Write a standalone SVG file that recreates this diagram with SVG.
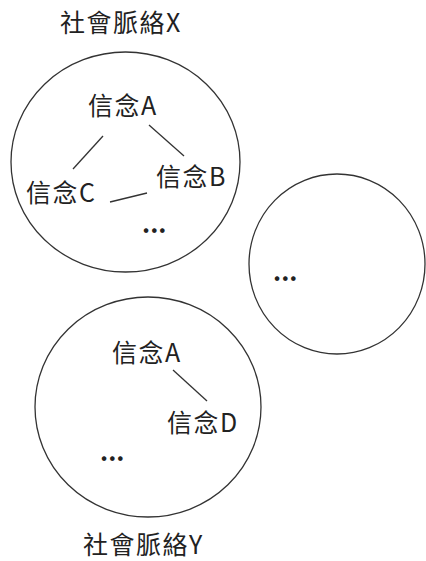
<svg xmlns="http://www.w3.org/2000/svg" width="426" height="561" viewBox="0 0 426 561">
<style>
.c{fill:none;stroke:#333;stroke-width:1.3}
.l{stroke:#333;stroke-width:1.3}
text{font-family:"Noto Sans CJK TC","Noto Sans",sans-serif;font-size:25px;letter-spacing:1.5px;fill:#222}
.d{font-weight:bold;letter-spacing:0}
</style>
<rect width="426" height="561" fill="#fff"/>
<g id="contextX">
<ellipse class="c" cx="125.5" cy="162" rx="114.5" ry="110"/>
<text x="60" y="32">社會脈絡X</text>
</g>
<g id="contextRight">
<ellipse class="c" cx="337" cy="264" rx="88" ry="90"/>
<text class="d" x="273" y="281">...</text>
</g>
<g id="contextY">
<ellipse class="c" cx="148" cy="407" rx="113" ry="110"/>
<text x="83" y="554">社會脈絡Y</text>
</g>
<g id="xA"><text x="88" y="115">信念A</text></g>
<g id="xB"><text x="156" y="186">信念B</text></g>
<g id="xC"><text x="26" y="202">信念C</text></g>
<g id="xMore"><text class="d" x="142" y="233">...</text></g>
<g id="yA"><text x="112" y="362">信念A</text></g>
<g id="yD"><text x="167" y="432">信念D</text></g>
<g id="yMore"><text class="d" x="100" y="461">...</text></g>
<g id="connectors">
<line class="l" x1="103" y1="136" x2="73" y2="169"/>
<line class="l" x1="149" y1="125" x2="184" y2="156"/>
<line class="l" x1="110" y1="202" x2="147" y2="193"/>
<line class="l" x1="173" y1="370" x2="207" y2="401"/>
</g>
</svg>
